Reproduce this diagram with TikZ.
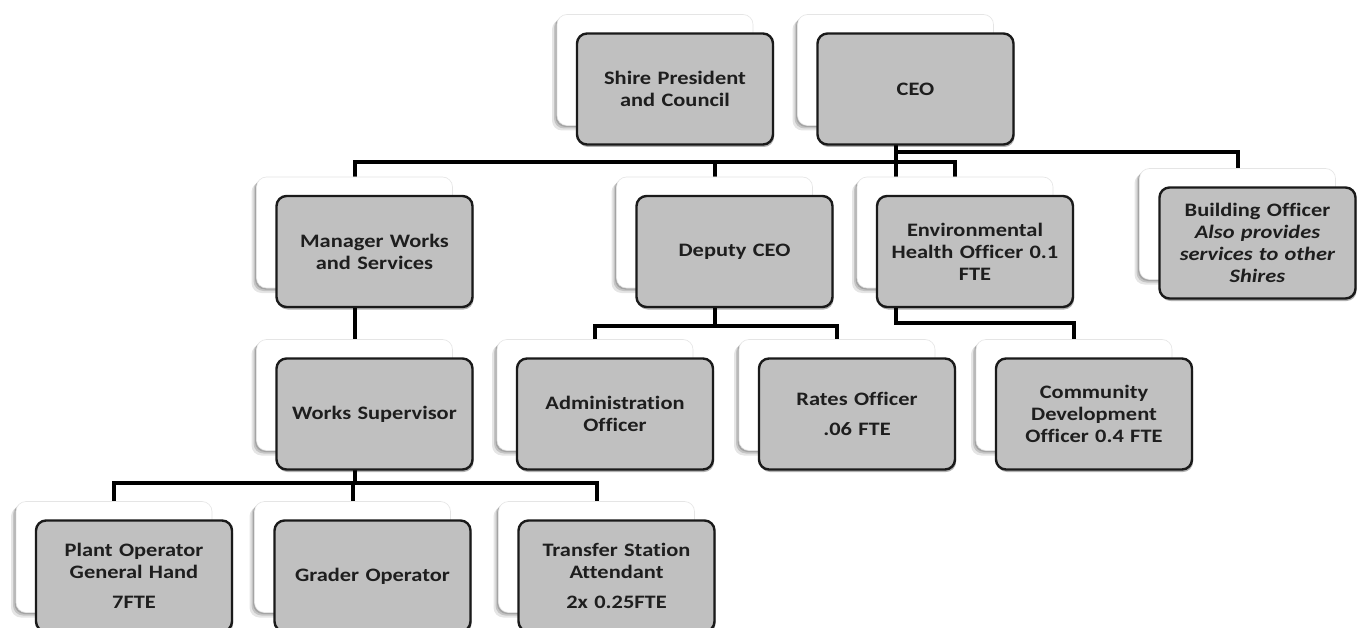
\documentclass[tikz,border=0pt]{standalone}
\usepackage{fontspec}
\setmainfont{Carlito}[FakeStretch=1.18, Ligatures=NoCommon]
\usetikzlibrary{shadows}
\definecolor{boxgray}{RGB}{192,192,192}
\definecolor{edgec}{RGB}{26,26,26}
\definecolor{txtc}{RGB}{30,30,30}
\pgfdeclarelayer{bg}
\pgfsetlayers{bg,main}
\tikzset{
  backbox/.style={rectangle, rounded corners=10pt, minimum width=196pt, minimum height=111pt,
    fill=white, draw=black!10, line width=0.6pt,
    drop shadow={shadow xshift=-5pt, shadow yshift=-5pt, fill=black, opacity=0.10},
    drop shadow={shadow xshift=-3pt, shadow yshift=-3pt, fill=black, opacity=0.14},
    drop shadow={shadow xshift=-1.5pt, shadow yshift=-1.5pt, fill=black, opacity=0.16}},
  frontbox/.style={rectangle, rounded corners=10pt, minimum width=196pt, minimum height=111pt,
    fill=boxgray, draw=edgec, line width=2.4pt, text=txtc, align=center, text width=184pt,
    font=\fontsize{19}{22}\selectfont\bfseries,
    drop shadow={shadow xshift=1pt, shadow yshift=-2.5pt, fill=black, opacity=0.30}},
  conn/.style={line width=4pt, black, line join=miter}
}
\newcommand\orgunit[4]{%
  \node[backbox] (#1b) at (#2,#3) {};
  \node[frontbox] (#1) at ([xshift=20pt,yshift=-19pt]#1b.center) {#4};}
\begin{document}
\begin{tikzpicture}[x=1pt,y=-1pt]
\useasboundingbox (0,0) rectangle (1367,628);
\begin{pgfonlayer}{bg}
\fill[white] (0,0) rectangle (1367,628);
\end{pgfonlayer}
% level 1
\orgunit{spc}{655}{70}{Shire President\\and Council}
\orgunit{ceo}{895.5}{70}{CEO}
% level 2
\orgunit{mws}{354.5}{232.5}{Manager Works\\and Services}
\orgunit{dep}{714.5}{232.5}{Deputy CEO}
\orgunit{env}{955}{232.5}{Environmental\\Health Officer 0.1\\FTE}
\orgunit{bld}{1237.5}{224}{Building Officer\\\textit{Also provides}\\\textit{services to other}\\\textit{Shires}}
% level 3
\orgunit{wsu}{354.5}{395}{Works Supervisor}
\orgunit{adm}{595}{395}{Administration\\Officer}
\orgunit{rat}{837}{395}{Rates Officer\\[8pt].06 FTE}
\orgunit{com}{1074}{395}{Community\\Development\\Officer 0.4 FTE}
% level 4
\orgunit{plo}{114}{557}{Plant Operator\\General Hand\\[8pt]7FTE}
\orgunit{gro}{352.5}{557}{Grader Operator}
\orgunit{tsa}{596.5}{557}{Transfer Station\\Attendant\\[8pt]2x 0.25FTE}
% connectors
\coordinate (busU) at (0,152);
\coordinate (busL) at (0,162);
\coordinate (busE) at (0,323);
\coordinate (busD) at (0,326);
\coordinate (busW) at (0,483);
\begin{pgfonlayer}{bg}
\draw[conn] (mwsb.north) -- (mwsb.north |- busL) -- (envb.north |- busL) -- (envb.north);
\draw[conn] (depb.north) -- (depb.north |- busL);
\draw[conn] (ceob.south) -- (ceob.south |- busE) -- (comb.north |- busE) -- (comb.north);
\draw[conn] (ceob.south |- busU) -- (bldb.north |- busU) -- (bldb.north);
\draw[conn] (mwsb.south) -- (wsub.north);
\draw[conn] (depb.south) -- (depb.south |- busD);
\draw[conn] (admb.north) -- (admb.north |- busD) -- (ratb.north |- busD) -- (ratb.north);
\draw[conn] (wsub.south) -- (wsub.south |- busW);
\draw[conn] (plob.north) -- (plob.north |- busW) -- (tsab.north |- busW) -- (tsab.north);
\draw[conn] (grob.north) -- (grob.north |- busW);
\end{pgfonlayer}
\end{tikzpicture}
\end{document}
